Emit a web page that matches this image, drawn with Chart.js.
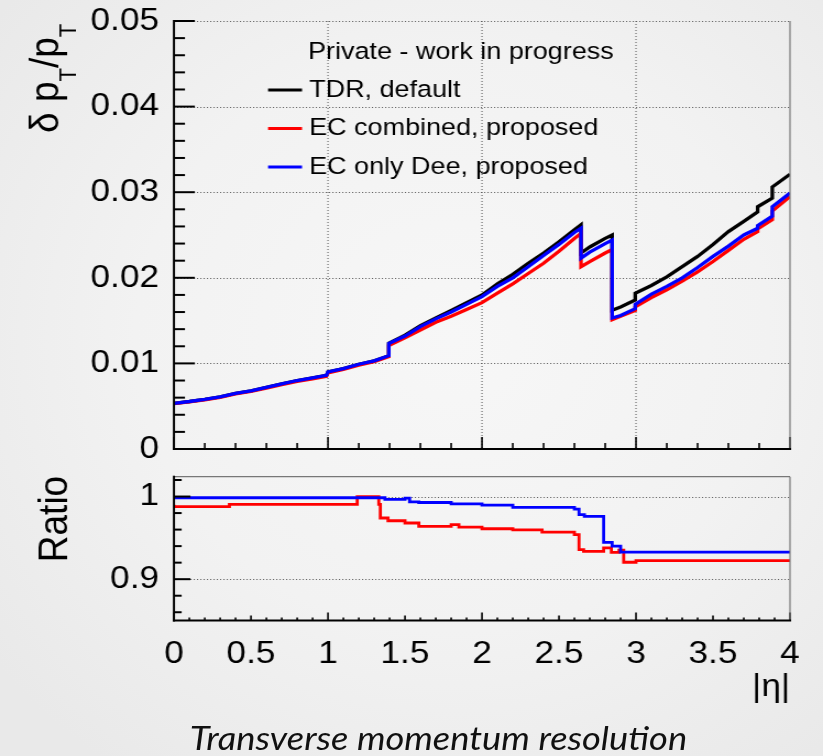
<!DOCTYPE html>
<html>
<head>
<meta charset="utf-8">
<script src="https://cdn.jsdelivr.net/npm/chart.js@4.4.1/dist/chart.umd.min.js"></script>
<style>
  html, body { margin: 0; padding: 0; }
  body {
    width: 823px; height: 756px; overflow: hidden; position: relative;
    background: radial-gradient(ellipse 70% 70% at 55% 45%, #f7f7f7 0%, #f2f2f2 55%, #e9e9e9 100%);
  }
  canvas { position: absolute; left: 0; }
  #caption {
    position: absolute; left: 27px; width: 823px; top: 718px; height: 38px; line-height: 38px;
    text-align: center; font-family: 'Lato', 'Open Sans', sans-serif; font-style: italic;
    font-size: 33px; color: #111; white-space: nowrap;
    transform: scaleX(1.1); transform-origin: 50% 50%;
  }
</style>
</head>
<body>
<canvas id="top" width="748" height="470" style="top:0px;width:823px;height:470px;"></canvas>
<canvas id="bottom" width="748" height="296" style="top:460px;width:823px;height:296px;"></canvas>
<div id="caption">Transverse momentum resolution</div>
<script>
// |eta| sampling of the resolution curves (repeated eta = step in the histogram)
const etaTop = [0, 0.1, 0.2, 0.3, 0.4, 0.5, 0.6, 0.7, 0.8, 0.9, 0.99, 1.0, 1.1, 1.2, 1.3,
  1.395, 1.395, 1.5, 1.6, 1.7, 1.8, 1.9, 2.0, 2.1, 2.2, 2.3, 2.4, 2.5, 2.6,
  2.643, 2.643, 2.7, 2.8, 2.845, 2.845, 2.9, 2.995, 2.995, 3.1, 3.2, 3.3, 3.4, 3.5,
  3.6, 3.7, 3.79, 3.79, 3.885, 3.885, 4.0];

// delta pT / pT
const tdrDefault = [0.00534, 0.00555, 0.0058, 0.0061, 0.0065, 0.0068, 0.0072, 0.0076, 0.0080, 0.0083, 0.0086, 0.0090, 0.0094, 0.0099, 0.0103,
  0.0109, 0.01235, 0.0133, 0.0144, 0.0153, 0.0162, 0.0171, 0.0180, 0.0193, 0.0204, 0.0217, 0.0229, 0.0242, 0.0256,
  0.0262, 0.0229, 0.0236, 0.0246, 0.0250, 0.0162, 0.0166, 0.0174, 0.0182, 0.0191, 0.0201, 0.0213, 0.0225, 0.0239,
  0.0254, 0.0266, 0.0277, 0.0283, 0.0293, 0.0306, 0.0321];

const ecCombined = [0.00529, 0.0055, 0.00575, 0.00604, 0.00643, 0.00673, 0.00712, 0.00751, 0.0079, 0.0082, 0.0085, 0.0089, 0.0093, 0.0098, 0.0102,
  0.0108, 0.0121, 0.0130, 0.0139, 0.0148, 0.0155, 0.0163, 0.0171, 0.0182, 0.0193, 0.0205, 0.0217, 0.0231, 0.0246,
  0.0252, 0.0213, 0.0219, 0.0229, 0.0233, 0.0151, 0.0155, 0.0162, 0.0166, 0.0177, 0.0186, 0.0196, 0.0207, 0.0219,
  0.0232, 0.0245, 0.0254, 0.0257, 0.0268, 0.0278, 0.0295];

const ecOnlyDee = [0.00534, 0.00555, 0.0058, 0.0061, 0.0065, 0.0068, 0.0072, 0.0076, 0.0080, 0.0083, 0.0086, 0.0090, 0.0094, 0.0099, 0.0103,
  0.0109, 0.01232, 0.0132, 0.0143, 0.0152, 0.0160, 0.0169, 0.0178, 0.0190, 0.0200, 0.0213, 0.0226, 0.0239, 0.0253,
  0.0258, 0.0223, 0.0230, 0.0240, 0.0244, 0.0153, 0.0156, 0.0164, 0.0169, 0.0181, 0.0190, 0.0200, 0.0212, 0.0225,
  0.0237, 0.0250, 0.0258, 0.0261, 0.0272, 0.0283, 0.0299];

// ratio to TDR default: bin low edges and contents (last entry closes the range)
const etaRatioComb = [0, 0.36, 1.19, 1.33, 1.34, 1.39, 1.50, 1.59, 1.80, 1.85, 2.00, 2.20, 2.39, 2.60, 2.63, 2.66, 2.79, 2.84, 2.89, 2.92, 3.00, 3.24, 4.00];
const ratioComb = [0.990, 0.9878, 0.9905, 1.000, 0.9905, 0.974, 0.9707, 0.968, 0.964, 0.966, 0.963, 0.961, 0.9597, 0.957, 0.954, 0.9358, 0.9337, 0.9378, 0.9325, 0.935, 0.9205, 0.9225, 0.9225];

const etaRatioDee = [0, 1.37, 1.50, 1.53, 1.59, 1.80, 2.00, 2.20, 2.60, 2.63, 2.665, 2.79, 2.845, 2.90, 3.00, 4.00];
const ratioDee = [1.000, 0.9985, 0.9965, 0.998, 0.9935, 0.9928, 0.991, 0.9895, 0.987, 0.9848, 0.978, 0.976, 0.9446, 0.940, 0.9328, 0.9328];

// axes
const yTicksTop = [0, 0.01, 0.02, 0.03, 0.04, 0.05];
const yLabelsTop = ['0', '0.01', '0.02', '0.03', '0.04', '0.05'];
const yTicksRatio = [0.9, 1];
const yLabelsRatio = ['0.9', '1'];
const etaTicks = [0, 0.5, 1, 1.5, 2, 2.5, 3, 3.5, 4];
const etaLabels = ['0', '0.5', '1', '1.5', '2', '2.5', '3', '3.5', '4'];
const etaGrid = [1, 2, 3];

const seriesNames = ['TDR, default', 'EC combined, proposed', 'EC only Dee, proposed'];
const seriesColors = ['#000000', '#ff0000', '#0000ff'];
const legendHeader = 'Private - work in progress';

const FONT = "'Liberation Sans', Arial, Helvetica, sans-serif";
const PLOT_LEFT = 158.1;   // canvas units
const PLOT_RIGHT = 718.0;

const pts = (xs, ys) => xs.map((x, i) => ({ x, y: ys[i] }));

function line(ctx, x1, y1, x2, y2) {
  ctx.beginPath(); ctx.moveTo(x1, y1); ctx.lineTo(x2, y2); ctx.stroke();
}

// ROOT-like pad: dotted grid, inner ticks, frame
function padPlugin(cfg) {
  return {
    id: 'pad_' + cfg.name,
    beforeDatasetsDraw(chart) {
      const { ctx, chartArea: a, scales: { x, y } } = chart;
      ctx.save();
      ctx.strokeStyle = '#555';
      ctx.lineWidth = 1;
      ctx.setLineDash([1, 2]);
      cfg.yGrid.forEach(v => {
        const py = Math.round(y.getPixelForValue(v)) + 0.5;
        line(ctx, a.left, py, a.right, py);
      });
      cfg.xGrid.forEach(v => {
        const px = x.getPixelForValue(v);
        line(ctx, px, a.top, px, a.bottom);
      });
      ctx.restore();
    },
    afterDatasetsDraw(chart) {
      const { ctx, chartArea: a, scales: { x, y } } = chart;
      ctx.save();
      ctx.strokeStyle = '#000';
      // y ticks (inside)
      ctx.lineWidth = 2;
      const nY = Math.round((cfg.yMax - cfg.yMin) / cfg.yMinor);
      for (let k = 0; k <= nY; k++) {
        const v = cfg.yMin + k * cfg.yMinor;
        if (v > y.max + 1e-9 || v < y.min - 1e-9) continue;
        const isMajor = cfg.yTicks.some(t => Math.abs(t - v) < 1e-9);
        const py = y.getPixelForValue(v);
        line(ctx, a.left, py, a.left + (isMajor ? cfg.yMajorLen : cfg.yMinorLen), py);
      }
      // x ticks (inside)
      ctx.lineWidth = 1.6;
      const nX = Math.round(4 / cfg.xMinor);
      for (let k = 0; k <= nX; k++) {
        const v = k * cfg.xMinor;
        const px = x.getPixelForValue(v);
        let len = cfg.xMinorLen;
        if (Math.abs(v - Math.round(v)) < 1e-9) len = cfg.xMajorLen;
        else if (Math.abs(v * 2 - Math.round(v * 2)) < 1e-9) len = cfg.xMidLen;
        line(ctx, px, a.bottom, px, a.bottom - len);
      }
      // frame
      ctx.strokeStyle = '#777';
      ctx.lineWidth = 1.2;
      line(ctx, a.right, a.top, a.right, a.bottom);
      if (cfg.topSolid) line(ctx, a.left, a.top, a.right, a.top);
      ctx.strokeStyle = '#000';
      ctx.lineWidth = 2;
      line(ctx, a.left, a.top - 1, a.left, a.bottom + 1);
      line(ctx, a.left - 1, a.bottom, a.right + 1, a.bottom);
      ctx.restore();
      if (cfg.extra) cfg.extra(chart);
    }
  };
}

function drawTopText(chart) {
  const { ctx } = chart;
  ctx.save();
  ctx.fillStyle = '#000';
  ctx.textBaseline = 'middle';
  ctx.textAlign = 'left';
  ctx.font = `24.5px ${FONT}`;
  ctx.fillText(legendHeader, 280, 52);
  const rows = [90, 128.5, 167];
  chart.data.datasets.forEach((ds, i) => {
    ctx.strokeStyle = ds.borderColor;
    ctx.lineWidth = 3;
    line(ctx, 243.6, rows[i], 274.5, rows[i]);
    ctx.fillText(ds.label, 281, rows[i]);
  });
  // y-axis title: delta pT / pT, rotated
  ctx.translate(52.8, 133);
  ctx.rotate(-Math.PI / 2);
  ctx.textBaseline = 'alphabetic';
  let cx = 0;
  const seg = (t, size, dy) => {
    ctx.font = `${size}px ${FONT}`;
    ctx.fillText(t, cx, dy);
    cx += ctx.measureText(t).width;
  };
  seg('\u03b4 p', 37, 0);
  seg('T', 22, 16);
  seg('/p', 37, 0);
  seg('T', 22, 16);
  ctx.restore();
}

function drawBottomText(chart) {
  const { ctx } = chart;
  ctx.save();
  ctx.fillStyle = '#000';
  ctx.font = `32px ${FONT}`;
  ctx.textAlign = 'right';
  ctx.textBaseline = 'alphabetic';
  ctx.fillText('|\u03b7|', 718, 236);
  ctx.translate(61, 59);
  ctx.rotate(-Math.PI / 2);
  ctx.font = `37px ${FONT}`;
  ctx.textAlign = 'center';
  ctx.fillText('Ratio', 0, 0);
  ctx.restore();
}

const common = {
  responsive: false,
  animation: false,
  devicePixelRatio: 1,
  events: [],
  plugins: { legend: { display: false }, tooltip: { enabled: false } }
};

const lineStyle = { pointRadius: 0, fill: false, tension: 0, borderWidth: 3.3, borderJoinStyle: 'miter' };

new Chart(document.getElementById('top'), {
  type: 'line',
  data: {
    datasets: [
      { ...lineStyle, label: seriesNames[0], data: pts(etaTop, tdrDefault), borderColor: seriesColors[0], order: 2 },
      { ...lineStyle, label: seriesNames[1], data: pts(etaTop, ecCombined), borderColor: seriesColors[1], order: 1 },
      { ...lineStyle, label: seriesNames[2], data: pts(etaTop, ecOnlyDee), borderColor: seriesColors[2], order: 0 }
    ]
  },
  options: {
    ...common,
    layout: { padding: { left: 0, right: 748 - PLOT_RIGHT, top: 21, bottom: 21 } },
    scales: {
      x: {
        type: 'linear', min: 0, max: 4,
        grid: { display: false }, border: { display: false },
        ticks: { display: false },
        afterFit: s => { s.height = 0; s.paddingLeft = 0; s.paddingRight = 0; }
      },
      y: {
        type: 'linear', min: 0, max: 0.05,
        grid: { display: false }, border: { display: false },
        afterBuildTicks: s => { s.ticks = yTicksTop.map(v => ({ value: v })); },
        ticks: {
          callback: (v, i) => yLabelsTop[i], autoSkip: false,
          font: { family: FONT, size: 32 }, color: '#000', padding: 5.5
        },
        afterFit: s => { s.width = PLOT_LEFT; s.paddingTop = 0; s.paddingBottom = 0; }
      }
    }
  },
  plugins: [padPlugin({
    name: 'top', yGrid: yTicksTop, xGrid: etaGrid, yTicks: yTicksTop,
    yMin: 0, yMax: 0.05, yMinor: 0.002, yMajorLen: 19, yMinorLen: 10,
    xMinor: 0.2, xMinorLen: 6, xMidLen: 6, xMajorLen: 12, topSolid: false,
    extra: drawTopText
  })]
});

const stepStyle = { pointRadius: 0, fill: false, tension: 0, borderWidth: 2.8, stepped: 'after' };

new Chart(document.getElementById('bottom'), {
  type: 'line',
  data: {
    datasets: [
      { ...stepStyle, label: seriesNames[1], data: pts(etaRatioComb, ratioComb), borderColor: seriesColors[1], order: 1 },
      { ...stepStyle, label: seriesNames[2], data: pts(etaRatioDee, ratioDee), borderColor: seriesColors[2], order: 0 }
    ]
  },
  options: {
    ...common,
    layout: { padding: { left: 0, right: 748 - PLOT_RIGHT, top: 16.7, bottom: 0 } },
    scales: {
      x: {
        type: 'linear', min: 0, max: 4,
        grid: { display: false }, border: { display: false },
        afterBuildTicks: s => { s.ticks = etaTicks.map(v => ({ value: v })); },
        ticks: {
          callback: (v, i) => etaLabels[i], autoSkip: false, maxRotation: 0,
          font: { family: FONT, size: 32 }, color: '#000', padding: 6
        },
        afterFit: s => { s.height = 296 - 160.5; s.paddingLeft = 0; s.paddingRight = 0; }
      },
      y: {
        type: 'linear', min: 0.85, max: 1.024,
        grid: { display: false }, border: { display: false },
        afterBuildTicks: s => { s.ticks = yTicksRatio.map(v => ({ value: v })); },
        ticks: {
          callback: (v, i) => yLabelsRatio[i], autoSkip: false,
          font: { family: FONT, size: 32 }, color: '#000', padding: 5.5
        },
        afterFit: s => { s.width = PLOT_LEFT; s.paddingTop = 0; s.paddingBottom = 0; }
      }
    }
  },
  plugins: [padPlugin({
    name: 'bottom', yGrid: yTicksRatio, xGrid: [], yTicks: yTicksRatio,
    yMin: 0.84, yMax: 1.04, yMinor: 0.02, yMajorLen: 15, yMinorLen: 7,
    xMinor: 0.1, xMinorLen: 3, xMidLen: 5, xMajorLen: 8, topSolid: true,
    extra: drawBottomText
  })]
});
</script>
</body>
</html>
